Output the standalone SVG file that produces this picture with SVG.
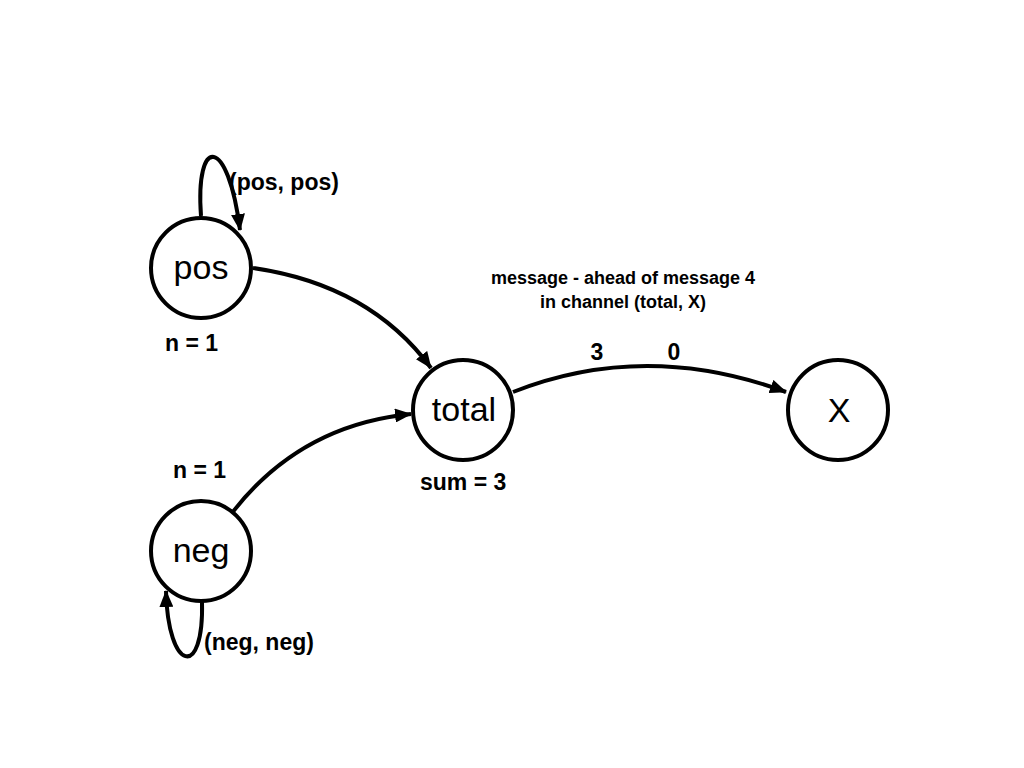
<svg xmlns="http://www.w3.org/2000/svg" width="1024" height="768" viewBox="0 0 1024 768">
<style>
.node{fill:#fff;stroke:#000;stroke-width:4}
.nt{font-family:"Liberation Sans",Arial,sans-serif;font-size:34px;text-anchor:middle;fill:#000}
.lb{font-family:"Liberation Sans",Arial,sans-serif;font-size:23px;font-weight:bold;fill:#000}
.msg{font-family:"Liberation Sans",Arial,sans-serif;font-size:18px;font-weight:bold;fill:#000;text-anchor:middle}
.edge{fill:none;stroke:#000;stroke-width:4;marker-end:url(#arr)}
</style>
<defs>
<marker id="arr" markerUnits="userSpaceOnUse" markerWidth="17" markerHeight="14" refX="16" refY="7" orient="auto">
<path d="M0,0 L17,7 L0,14 z" fill="#000"/>
</marker>
</defs>
<rect width="1024" height="768" fill="#fff"/>
<g id="connectors">
<path class="edge" d="M253,268 Q370,285 431,368"/>
<path class="edge" d="M232,513 Q300,425 411,414"/>
<path class="edge" d="M513,392 Q645,340 786,392"/>
<path class="edge" d="M201,216 C195,135 228,135 240,230"/>
<path class="edge" d="M202,602 C204,680 168,672 166,591"/>
</g>
<g id="node-pos">
<circle class="node" cx="201" cy="268" r="50"/>
<text class="nt" x="201" y="279">pos</text>
</g>
<g id="node-neg">
<circle class="node" cx="201" cy="551" r="50"/>
<text class="nt" x="201" y="562">neg</text>
</g>
<g id="node-total">
<circle class="node" cx="463" cy="410" r="50"/>
<text class="nt" x="464" y="421">total</text>
</g>
<g id="node-X">
<circle class="node" cx="838" cy="410" r="50"/>
<text class="nt" x="839" y="422">X</text>
</g>
<g id="labels">
<text class="lb" x="229" y="190">(pos, pos)</text>
<text class="lb" x="204" y="650">(neg, neg)</text>
<text class="lb" x="165" y="351">n = 1</text>
<text class="lb" x="173" y="478">n = 1</text>
<text class="lb" x="420" y="490">sum = 3</text>
<text class="lb" x="597" y="360" text-anchor="middle">3</text>
<text class="lb" x="674" y="360" text-anchor="middle">0</text>
<text class="msg" x="623" y="284">message - ahead of message 4</text>
<text class="msg" x="623" y="308">in channel (total, X)</text>
</g>
</svg>
